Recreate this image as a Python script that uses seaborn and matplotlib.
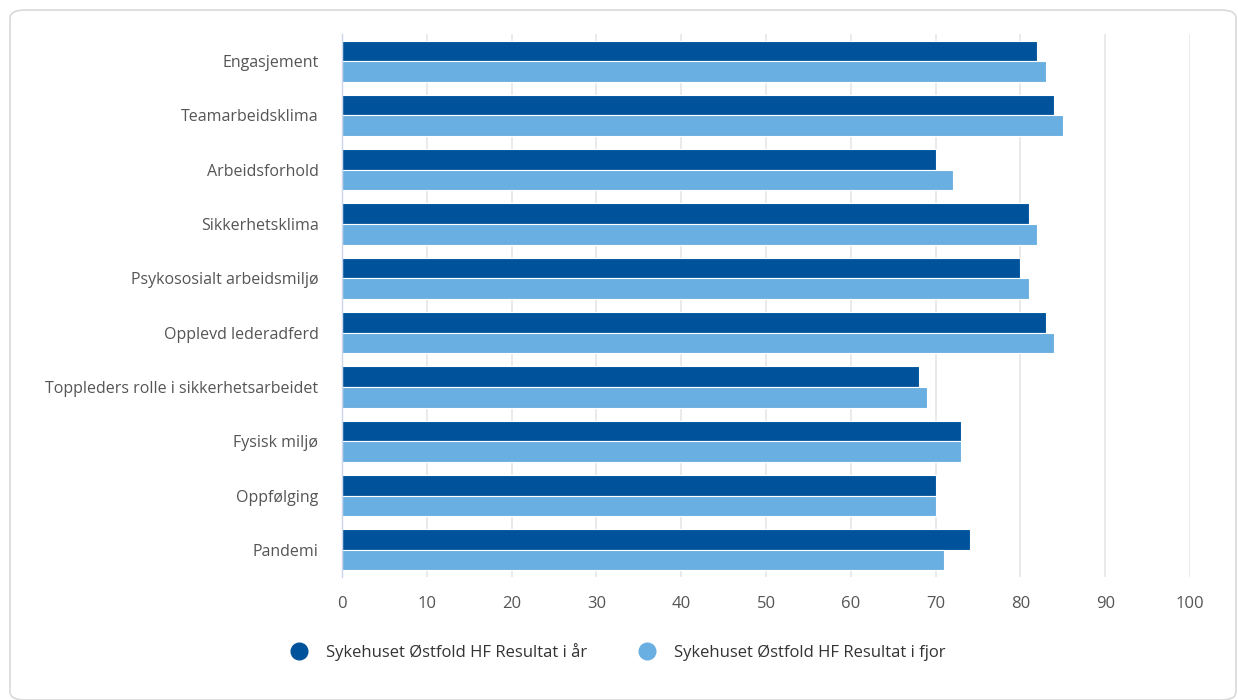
import matplotlib
matplotlib.use("Agg")
import matplotlib.pyplot as plt
from matplotlib.patches import FancyBboxPatch
from matplotlib.lines import Line2D
import seaborn as sns
import pandas as pd

categories = ["Engasjement", "Teamarbeidsklima", "Arbeidsforhold", "Sikkerhetsklima",
              "Psykososialt arbeidsmiljø", "Opplevd lederadferd",
              "Toppleders rolle i sikkerhetsarbeidet", "Fysisk miljø", "Oppfølging", "Pandemi"]
this_year = [82, 84, 70, 81, 80, 83, 68, 73, 70, 74]
last_year = [83, 85, 72, 82, 81, 84, 69, 73, 70, 71]
series = ["Sykehuset Østfold HF Resultat i år", "Sykehuset Østfold HF Resultat i fjor"]
colors = ["#00529b", "#6aafe1"]

df = pd.DataFrame({
    "kategori": categories * 2,
    "verdi": this_year + last_year,
    "serie": [series[0]] * len(categories) + [series[1]] * len(categories),
})

sns.set_style("white")
plt.rcParams["font.family"] = ["Open Sans", "DejaVu Sans"]

fig = plt.figure(figsize=(12.38, 7), dpi=100)
# rounded card border behind the chart
fig.patches.append(FancyBboxPatch((10 / 1238, 0.0), 1226 / 1238, 690 / 700,
                                  boxstyle="round,pad=0,rounding_size=0.012",
                                  transform=fig.transFigure, facecolor="none",
                                  edgecolor="#d9d9d9", linewidth=1.2, zorder=-1))
ax = fig.add_axes([342 / 1238, 1 - 577 / 700, 848 / 1238, 543 / 700])
ax.set_facecolor("none")

sns.barplot(data=df, y="kategori", x="verdi", hue="serie", palette=colors,
            orient="h", width=0.76, edgecolor="white", linewidth=0.8,
            saturation=1, legend=False, ax=ax)

ax.set_xlim(0, 100)
ax.set_ylim(9.5, -0.5)
ax.set_xticks(range(0, 101, 10))
ax.xaxis.grid(True, color="#e6e6e6", linewidth=1.2)
ax.set_axisbelow(True)
for s in ["top", "right", "bottom"]:
    ax.spines[s].set_visible(False)
ax.spines["left"].set_color("#ccd6eb")
ax.spines["left"].set_linewidth(1)
ax.set_xlabel("")
ax.set_ylabel("")
ax.tick_params(axis="y", length=0, pad=17, labelsize=11.5, labelcolor="#555555")
ax.tick_params(axis="x", length=0, pad=14, labelsize=12, labelcolor="#555555")

handles = [Line2D([0], [0], marker="o", linestyle="", markersize=12,
                  markerfacecolor=c, markeredgecolor=c) for c in colors]
fig.legend(handles, series, loc="center", bbox_to_anchor=(614 / 1238, 1 - 652 / 700),
           ncol=2, frameon=False, fontsize=12, handletextpad=0.6, columnspacing=2.6,
           labelcolor="#333333")

fig.savefig("out.png", dpi=100)
